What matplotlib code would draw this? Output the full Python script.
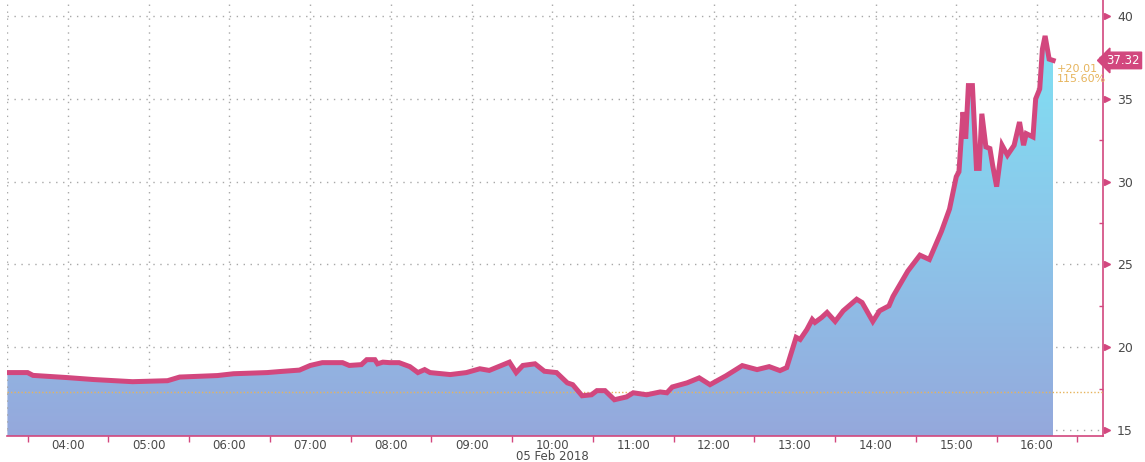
import numpy as np
import matplotlib
matplotlib.use("Agg")
import matplotlib.pyplot as plt
from matplotlib.colors import LinearSegmentedColormap

# Datos (hora local, valor)
times = ["03:15", "03:30", "03:34", "03:59", "04:19", "04:48", "05:14", "05:23",
         "05:51", "06:03", "06:28", "06:37", "06:52", "07:00", "07:09", "07:17",
         "07:24", "07:29", "07:38", "07:42", "07:48", "07:50", "07:54", "07:59",
         "08:06", "08:14", "08:20", "08:25", "08:29", "08:44", "08:56", "09:06",
         "09:13", "09:28", "09:33", "09:38", "09:47", "09:54", "10:03", "10:11",
         "10:15", "10:22", "10:29", "10:33", "10:39", "10:46", "10:55", "11:00",
         "11:10", "11:20", "11:25", "11:29", "11:40", "11:49", "11:57", "12:09",
         "12:21", "12:32", "12:41", "12:49", "12:54", "13:01", "13:04", "13:09",
         "13:13", "13:15", "13:20", "13:24", "13:30", "13:36", "13:46", "13:50",
         "13:58", "14:03", "14:10", "14:13", "14:24", "14:33", "14:40", "14:49",
         "14:55", "15:00", "15:02", "15:05", "15:07", "15:09", "15:12", "15:15",
         "15:17", "15:19", "15:22", "15:25", "15:27", "15:30", "15:34", "15:38",
         "15:43", "15:47", "15:50", "15:52", "15:57", "15:59", "16:02", "16:04",
         "16:06", "16:09", "16:12"]
values = [18.47, 18.47, 18.3, 18.17, 18.05, 17.92, 17.98, 18.2,
          18.29, 18.4, 18.47, 18.53, 18.62, 18.9, 19.07, 19.07,
          19.07, 18.9, 18.95, 19.25, 19.25, 19.0, 19.1, 19.07,
          19.07, 18.83, 18.47, 18.65, 18.47, 18.35, 18.47, 18.7,
          18.6, 19.1, 18.47, 18.9, 19.0, 18.55, 18.47, 17.85,
          17.74, 17.07, 17.13, 17.38, 17.38, 16.83, 17.0, 17.25,
          17.13, 17.3, 17.25, 17.6, 17.85, 18.15, 17.74, 18.28,
          18.89, 18.65, 18.83, 18.59, 18.77, 20.6, 20.47, 21.07,
          21.68, 21.5, 21.8, 22.1, 21.56, 22.2, 22.9, 22.7,
          21.56, 22.2, 22.5, 23.07, 24.6, 25.56, 25.3, 27.0,
          28.35, 30.3, 30.6, 34.2, 32.6, 35.8, 35.8, 30.8,
          30.8, 34.1, 32.1, 32.0, 31.0, 29.7, 32.2, 31.6,
          32.2, 33.6, 32.2, 32.9, 32.7, 35.0, 35.6, 38.0,
          38.8, 37.4, 37.32]

prev_close = 17.31
last_value = 37.32
change_text = "+20.01\n115.60%"
date_label = "05 Feb 2018"
hour_ticks = list(range(4, 17))
hour_labels = [f"{h:02d}:00" for h in hour_ticks]
y_ticks = [15, 20, 25, 30, 35, 40]

# Convertir "HH:MM" a horas decimales
x = np.array([int(t[:2]) + int(t[3:]) / 60 for t in times])
y = np.array(values)

pink = "#d2477e"
orange = "#e6b45c"
grid_col = "#a8a8a8"
text_col = "#4a4a4a"

fig = plt.figure(figsize=(11.45, 4.62), dpi=100)
ax = fig.add_axes([7 / 1145, 26 / 462, 1096 / 1145, 436 / 462])

ymin, ymax = 14.64, 40.97
ax.set_xlim(3.245, 16.817)
ax.set_ylim(ymin, ymax)

# Relleno con degradado (azul abajo, cian arriba)
cmap = LinearSegmentedColormap.from_list("fill", ["#95a8dc", "#8cc6ea", "#80e0f3"])
grad = np.linspace(0, 1, 256).reshape(-1, 1)
im = ax.imshow(grad, cmap=cmap, origin="lower", aspect="auto",
               extent=[x[0], x[-1], ymin, 38.5], zorder=1)
poly = ax.fill_between(x, y, ymin, color="none", lw=0)
im.set_clip_path(poly.get_paths()[0], transform=ax.transData)

# Línea principal
ax.plot(x, y, color=pink, lw=3.6, solid_joinstyle="miter", zorder=4)

# Cierre anterior (línea punteada naranja)
ax.axhline(prev_close, color=orange, lw=1, ls=(0, (1, 1.5)), zorder=3)

# Rejilla punteada
ax.set_xticks(hour_ticks)
ax.set_xticklabels(hour_labels)
ax.set_xticks(np.arange(3.5, 16.6, 1.0), minor=True)
ax.set_yticks(y_ticks)
ax.set_yticks([17.5, 22.5, 27.5, 32.5, 37.5], minor=True)
ax.grid(True, which="major", color=grid_col, ls=(0, (1, 4)), lw=1)
ax.set_axisbelow(True)

# Ejes
for side in ["top", "left"]:
    ax.spines[side].set_visible(False)
ax.spines["bottom"].set_color(pink)
ax.spines["right"].set_color(pink)
ax.spines["bottom"].set_linewidth(1.2)
ax.spines["right"].set_linewidth(1.2)
ax.axvline(3.245, color=grid_col, ls=(0, (1, 4)), lw=1)

ax.yaxis.tick_right()
ax.tick_params(axis="x", which="major", length=0, pad=2, labelsize=8.5, labelcolor=text_col)
ax.tick_params(axis="x", which="minor", length=4, color=pink, width=1)
ax.tick_params(axis="y", which="major", length=0, pad=10, labelsize=9, labelcolor=text_col)
ax.tick_params(axis="y", which="minor", length=3, color=pink, width=1, direction="in")

# Triángulos en las marcas del eje derecho
ax.plot([1.004] * len(y_ticks), y_ticks, ls="none", marker=">", ms=5, color=pink,
        transform=ax.get_yaxis_transform(), clip_on=False)

# Etiqueta del último valor
ax.text(1.003, last_value, f"{last_value:.2f}", transform=ax.get_yaxis_transform(),
        ha="left", va="center", color="white", fontsize=8.5, clip_on=False,
        bbox=dict(boxstyle="larrow,pad=0.15", fc=pink, ec=pink))
ax.text(x[-1] + 0.04, 36.5, change_text, color=orange, fontsize=8, ha="left",
        va="center", linespacing=1.1)

# Fecha bajo las 10:00
ax.text(10, -0.047, date_label, transform=ax.get_xaxis_transform(), ha="center",
        va="center", fontsize=8.5, color=text_col)

fig.savefig("out.png", dpi=100)
